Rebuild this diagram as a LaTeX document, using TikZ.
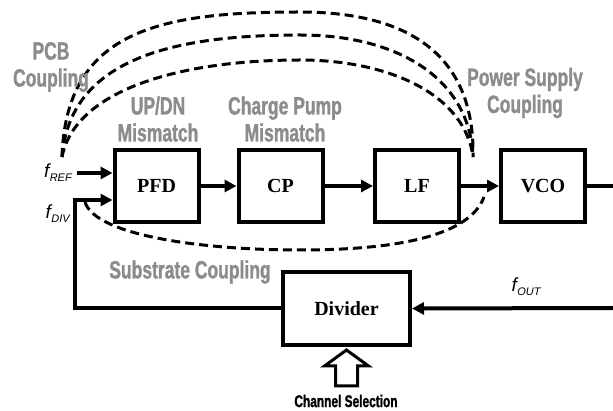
\documentclass[tikz,border=0pt]{standalone}
\usepackage{fontspec}
\setmainfont{Liberation Serif}
\setsansfont{Liberation Sans}
\newfontfamily\impacto[FakeStretch=0.7,BoldFeatures={FakeBold=1.2}]{Liberation Sans}
\usepackage{tikz}
\usetikzlibrary{arrows.meta,positioning}
\definecolor{grisacople}{HTML}{8C8C8C}
\newcommand{\fsen}[1]{\textsf{\itshape f\kern0.5pt\raisebox{-4pt}{\fontsize{11}{11}\selectfont #1}}}

\begin{document}
\begin{tikzpicture}[x=1pt,y=-1pt,>={Triangle[length=12pt,width=12pt]},
      bloque/.style={draw,line width=4pt,minimum width=84pt,minimum height=72pt,
                     font=\fontsize{20}{20}\selectfont\bfseries},
      flecha/.style={line width=4pt,->},
      acople/.style={grisacople,font=\impacto\bfseries\fontsize{25}{27}\selectfont,align=center},
      ruido/.style={line width=3pt,dash pattern=on 9pt off 5pt},
      senal/.style={font=\fontsize{19}{19}\selectfont,inner sep=1pt}]
    \useasboundingbox (0,0) rectangle (613,411);
    % lazo directo
    \foreach \nm/\x/\txt in {pfd/156.5/PFD, cp/280.5/CP, lf/417/LF, vco/543/VCO}{
      \node[bloque] (\nm) at (\x,186) {\txt};
    }
    \foreach \a/\b in {pfd/cp, cp/lf, lf/vco}
      \draw[flecha] (\a) -- (\b);
    \coordinate (salida) at (613,186);
    \draw[line width=4pt] (vco.east) -- (salida);
    % realimentacion
    \node[bloque,minimum width=127pt,minimum height=73pt] (divisor) at (346.5,308.5) {Divider};
    \coordinate (retorno) at (613,308);
    \draw[flecha] (retorno) -- (divisor.east);
    \node[senal] (fout) at (526,287) {\fsen{OUT}};
    \coordinate (esq) at (75,200);
    \draw[flecha] (divisor.west) -| (esq) -- (esq -| pfd.west);
    \node[senal,left=4pt of esq,yshift=-14pt] (fdiv) {\fsen{DIV}};
    \coordinate (ref) at (77,173);
    \draw[flecha] (ref) -- (ref -| pfd.west);
    \node[senal,left=4pt of ref] (fref) {\fsen{REF}};
    % seleccion de canal
    \draw[line width=3pt,line join=miter] ([shift={(0,3)}]divisor.south) -- ++(22,16) -- ++(-11,0)
      -- ++(0,20) -- ++(-22,0) -- ++(0,-20) -- ++(-11,0) -- cycle;
    \node[font=\impacto\bfseries\fontsize{17}{17}\selectfont] (canal) at (346,401) {Channel Selection};
    % acoples
    \coordinate (pcbA) at (62,157);
    \coordinate (pcbB) at (473,157);
    \draw[ruido] (pcbA) .. controls (66,30) and (160,12) .. (300,12)
                        .. controls (415,12) and (475,60) .. (pcbB);
    \draw[ruido] (pcbA) .. controls (70,60) and (170,35) .. (300,35)
                        .. controls (400,35) and (470,80) .. (pcbB);
    \draw[ruido] (pcbA) .. controls (75,90) and (180,60) .. (300,60)
                        .. controls (390,60) and (465,95) .. (pcbB);
    \coordinate (subA) at (85,202);
    \coordinate (subB) at (484,197);
    \draw[ruido] (subA) .. controls (95,235) and (200,250) .. (300,250)
                        .. controls (400,250) and (470,235) .. (subB);
    \node[acople] (pcb) at (51,67) {PCB\\Coupling};
    \node[acople] (updn) at (158,119) {UP/DN\\Mismatch};
    \node[acople] (cpmis) at (285,119) {Charge Pump\\Mismatch};
    \node[acople] (fuente) at (525,93) {Power Supply\\Coupling};
    \node[acople] (sustrato) at (190,272) {Substrate Coupling};
  \end{tikzpicture}
\end{document}
